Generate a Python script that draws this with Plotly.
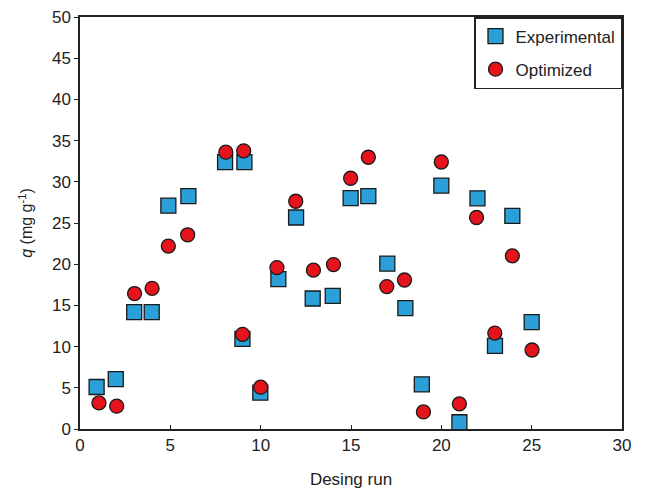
import plotly.graph_objects as go

# Experimental values (design run position, q)
exp_run = [0.92, 1.98, 3.0, 3.97, 4.89, 6.0, 8.03, 9.1, 8.99, 9.98, 10.98, 11.96, 12.88,
           13.99, 14.98, 15.96, 17.01, 18.01, 18.92, 20.0, 21.0, 22.0, 22.97, 23.93, 25.0]
exp_q = [5.1, 6.05, 14.18, 14.18, 27.1, 28.27, 32.38, 32.38, 10.94, 4.41, 18.2, 25.67, 15.84,
         16.16, 28.03, 28.27, 20.07, 14.68, 5.42, 29.53, 0.82, 28.0, 10.08, 25.87, 12.97]

# Optimized values
opt_run = [1.05, 2.03, 3.02, 3.99, 4.89, 5.96, 8.07, 9.06, 9.0, 10.0, 10.9, 11.94, 12.92,
           14.03, 14.98, 15.96, 16.98, 17.96, 19.01, 20.0, 21.0, 21.95, 22.96, 23.93, 25.02]
opt_q = [3.17, 2.77, 16.44, 17.07, 22.2, 23.57, 33.6, 33.76, 11.49, 5.08, 19.59, 27.64, 19.28,
         19.95, 30.43, 32.98, 17.28, 18.08, 2.07, 32.4, 3.05, 25.67, 11.64, 21.02, 9.59]

x_ticks = [0, 5, 10, 15, 20, 25, 30]
y_ticks = [0, 5, 10, 15, 20, 25, 30, 35, 40, 45, 50]

fig = go.Figure()
fig.add_trace(go.Scatter(
    x=exp_run, y=exp_q, mode="markers", name="Experimental", legendgroup="a",
    marker=dict(symbol="square", size=15, color="#2A9FD8",
                line=dict(color="#1a1a1a", width=1.3)),
))
fig.add_trace(go.Scatter(
    x=opt_run, y=opt_q, mode="markers", name="Optimized", legendgroup="b",
    marker=dict(symbol="circle", size=14, color="#E5141C",
                line=dict(color="#1a1a1a", width=1.3)),
))

font_family = "Liberation Sans, Arial, sans-serif"

fig.update_layout(
    width=629, height=482,
    margin=dict(l=72, r=15, t=9, b=61, autoexpand=False),
    paper_bgcolor="white", plot_bgcolor="white",
    font=dict(family=font_family, size=17, color="#222222"),
    showlegend=True,
    legend=dict(
        x=1, y=1, xanchor="right", yanchor="top",
        bordercolor="#222222", borderwidth=1.5, bgcolor="white",
        font=dict(size=17, color="#222222"),
        traceorder="grouped", tracegroupgap=8,
        itemwidth=30,
    ),
    xaxis=dict(
        range=[0, 30], tickvals=x_ticks, ticktext=[str(v) for v in x_ticks],
        showgrid=False, zeroline=False,
        showline=True, linecolor="#222222", linewidth=1.5, mirror=True,
        ticks="inside", ticklen=4, tickcolor="#222222", tickwidth=1,
        ticklabeloverflow="allow",
        title=dict(text="Desing run", font=dict(size=17), standoff=19),
        tickfont=dict(size=17),
    ),
    yaxis=dict(
        range=[0, 50], tickvals=y_ticks, ticktext=[str(v) for v in y_ticks],
        showgrid=False, zeroline=False,
        showline=True, linecolor="#222222", linewidth=1.5, mirror=True,
        ticks="outside", ticklen=4, tickcolor="#222222", tickwidth=1,
        ticklabeloverflow="allow",
        title=dict(text="<i>q</i> (mg g<sup>-1</sup>)", font=dict(size=16), standoff=15),
        tickfont=dict(size=17),
    ),
)

fig.write_html("out.html")
